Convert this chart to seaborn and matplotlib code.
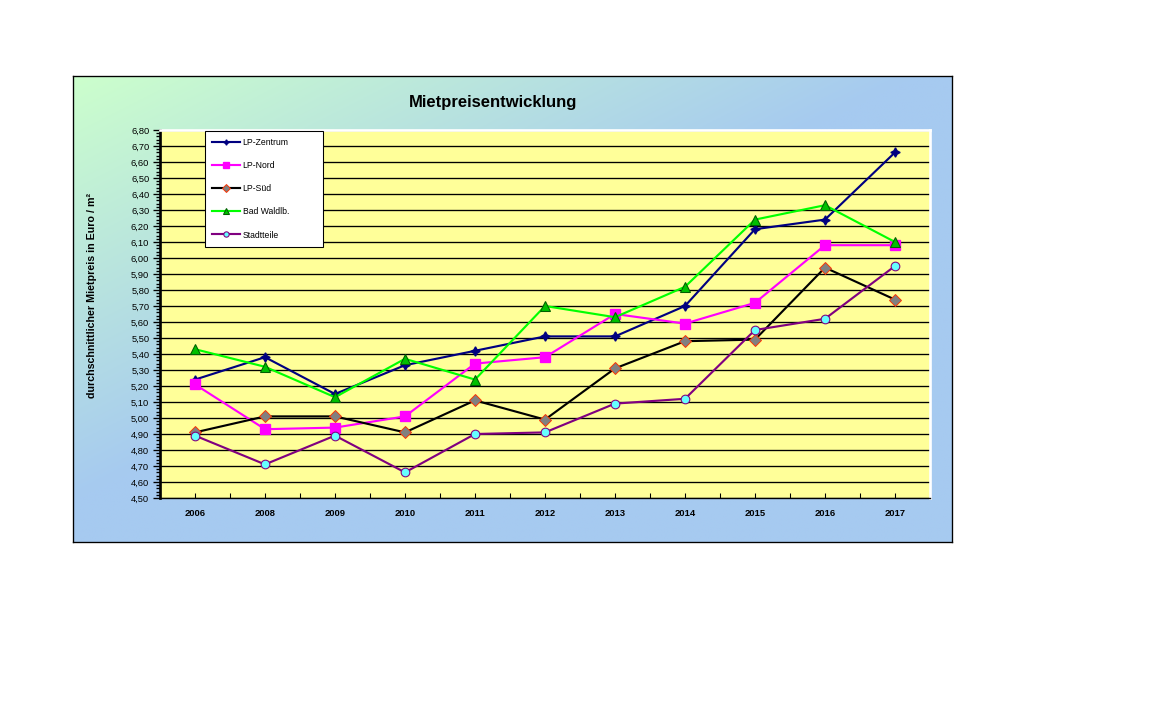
import numpy as np
import pandas as pd
import matplotlib
matplotlib.use("Agg")
import matplotlib.pyplot as plt
from matplotlib.ticker import MultipleLocator
import seaborn as sns

# Daten
jahre = ["2006", "2008", "2009", "2010", "2011", "2012", "2013", "2014", "2015", "2016", "2017"]
lp_zentrum = [5.24, 5.38, 5.15, 5.33, 5.42, 5.51, 5.51, 5.70, 6.18, 6.24, 6.66]
lp_nord = [5.21, 4.93, 4.94, 5.01, 5.34, 5.38, 5.65, 5.59, 5.72, 6.08, 6.08]
lp_sued = [4.91, 5.01, 5.01, 4.91, 5.11, 4.99, 5.31, 5.48, 5.49, 5.94, 5.74]
bad_waldlb = [5.43, 5.32, 5.13, 5.37, 5.24, 5.70, 5.63, 5.82, 6.24, 6.33, 6.10]
stadtteile = [4.89, 4.71, 4.89, 4.66, 4.90, 4.91, 5.09, 5.12, 5.55, 5.62, 5.95]

serien = {
    "LP-Zentrum": lp_zentrum,
    "LP-Nord": lp_nord,
    "LP-Süd": lp_sued,
    "Bad Waldlb.": bad_waldlb,
    "Stadtteile": stadtteile,
}

df = pd.DataFrame({"Jahr": jahre, **serien}).melt(id_vars="Jahr", var_name="Gebiet", value_name="Preis")

stile = {
    "LP-Zentrum": dict(color="#000080", marker=(4, 1, 0), ms=7, mfc="#000080", mec="#000080", mew=1),
    "LP-Nord": dict(color="#FF00FF", marker="s", ms=7, mfc="#FF00FF", mec="#FF00FF", mew=1),
    "LP-Süd": dict(color="#000000", marker="D", ms=6, mfc="#808080", mec="#FF3300", mew=0.7),
    "Bad Waldlb.": dict(color="#00FF00", marker="^", ms=8, mfc="#00C000", mec="#006000", mew=0.8),
    "Stadtteile": dict(color="#800080", marker="o", ms=6.5, mfc="#66FFFF", mec="#800080", mew=0.8),
}

plt.rcParams["font.family"] = ["Liberation Sans", "DejaVu Sans"]

W, H = 1152, 720
fig = plt.figure(figsize=(12, 7.5), dpi=96)
fig.patch.set_facecolor("white")

# Hintergrund mit Verlauf
bx0, by0, bx1, by1 = 73, 76, 952, 542
bg = fig.add_axes([bx0 / W, 1 - by1 / H, (bx1 - bx0) / W, (by1 - by0) / H])
xx, yy = np.meshgrid(np.linspace(0, 1, 300), np.linspace(0, 1, 200))
t = np.clip((xx * 1.05 + yy * 1.1), 0, 1)
gruen = np.array([204, 255, 204]) / 255
blau = np.array([166, 202, 240]) / 255
img = gruen[None, None, :] * (1 - t[..., None]) + blau[None, None, :] * t[..., None]
bg.imshow(img, aspect="auto", extent=[0, 1, 1, 0])
bg.set_xlim(0, 1)
bg.set_ylim(1, 0)
bg.set_xticks([])
bg.set_yticks([])
for s in bg.spines.values():
    s.set_color("black")
    s.set_linewidth(1)

# Diagramm
ax = fig.add_axes([160 / W, 1 - 498 / H, 770 / W, 368 / H])
ax.set_facecolor("#FFFF99")
for name in serien:
    st = stile[name]
    sns.lineplot(data=df[df["Gebiet"] == name], x="Jahr", y="Preis", ax=ax, sort=False,
                 color=st["color"], linewidth=1.6, marker=st["marker"], markersize=st["ms"],
                 markerfacecolor=st["mfc"], markeredgecolor=st["mec"], markeredgewidth=st["mew"],
                 label=name, zorder=3)

ax.set_xlim(-0.5, len(jahre) - 0.5)
ax.set_ylim(4.5, 6.8)
ax.yaxis.set_minor_locator(MultipleLocator(0.02))
ax.set_yticks(np.round(np.arange(4.5, 6.81, 0.1), 2))
ax.set_yticklabels([f"{v:.2f}".replace(".", ",") for v in ax.get_yticks()])
ax.grid(axis="y", color="black", linewidth=1)
ax.set_axisbelow(True)
ax.set_xticks(np.arange(-0.5, len(jahre), 0.5), minor=True)
ax.set_xticks(range(len(jahre)))
ax.set_xticklabels(jahre, fontweight="bold")
ax.tick_params(axis="x", which="both", direction="in", length=4, width=0.8, labelsize=7, pad=8)
ax.tick_params(axis="y", which="major", direction="out", length=5, width=1, labelsize=7, pad=3)
ax.tick_params(axis="y", which="minor", direction="out", length=3, width=1)
ax.spines["left"].set_linewidth(2)
ax.spines["left"].set_color("black")
ax.spines["bottom"].set_linewidth(1)
ax.spines["bottom"].set_color("black")
ax.spines["top"].set_color("white")
ax.spines["right"].set_color("white")
ax.spines["top"].set_linewidth(2)
ax.spines["right"].set_linewidth(2)
ax.set_xlabel("")
ax.set_ylabel("")

fig.text(493 / W, 1 - 103 / H, "Mietpreisentwicklung", ha="center", va="center",
         fontsize=12.5, fontweight="bold")
fig.text(92 / W, 1 - 295 / H, "durchschnittlicher Mietpreis in Euro / m²", ha="center", va="center",
         rotation=90, fontsize=8, fontweight="bold")

leg = ax.legend(loc="upper left", mode="expand",
                bbox_to_anchor=((205 - 160) / 770, 1 - 1 / 368 - 0.01, (323 - 205) / 770, 0.01),
                fontsize=6.5, frameon=True, fancybox=False, edgecolor="black", framealpha=1,
                labelspacing=1.62, handlelength=3.2, handletextpad=0.3, borderpad=0.85,
                borderaxespad=0)
leg.get_frame().set_linewidth(0.8)
for lh in leg.get_lines():
    lh.set_markersize(4)

fig.savefig("out.png", dpi=96)
